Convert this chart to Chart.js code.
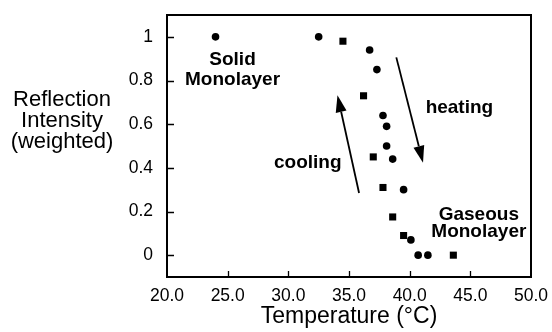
<!DOCTYPE html>
<html>
<head>
<meta charset="utf-8">
<script src="https://cdn.jsdelivr.net/npm/chart.js@4/dist/chart.umd.min.js"></script>
<style>
html,body{margin:0;padding:0;background:#fff;}
#wrap{width:552px;height:332px;position:relative;}
</style>
</head>
<body>
<div id="wrap"><canvas id="c" width="552" height="332"></canvas></div>
<script>
// Heating series (circles)
const heatingT = [24.0, 32.5, 36.7, 37.3, 37.8, 38.1, 38.1, 38.6, 39.5, 40.1, 40.7, 41.5];
const heatingI = [1.0, 1.0, 0.94, 0.85, 0.64, 0.59, 0.50, 0.44, 0.30, 0.07, 0, 0];
// Cooling series (squares)
const coolingT = [34.5, 36.2, 37.0, 37.8, 38.6, 39.5, 43.6];
const coolingI = [0.98, 0.73, 0.45, 0.31, 0.175, 0.09, 0];
// Tick labels
const xTickValues = [20, 25, 30, 35, 40, 45, 50];
const xTickLabels = ["20.0", "25.0", "30.0", "35.0", "40.0", "45.0", "50.0"];
const yTickValues = [0, 0.2, 0.4, 0.6, 0.8, 1];
const yTickLabels = ["0", "0.2", "0.4", "0.6", "0.8", "1"];
const yTitleLines = ["Reflection", "Intensity", "(weighted)"];
const xTitle = "Temperature (\u00B0C)";

const FONT = "'Liberation Sans', Arial, Helvetica, sans-serif";

// annotations in data coordinates
const labels = [
  {text: "Solid", x: 25.4, y: 0.87},
  {text: "Monolayer", x: 25.4, y: 0.78},
  {text: "heating", x: 44.1, y: 0.65},
  {text: "cooling", x: 31.6, y: 0.40},
  {text: "Gaseous", x: 45.7, y: 0.16},
  {text: "Monolayer", x: 45.7, y: 0.085}
];
const arrows = [
  {from: [38.9, 0.906], to: [41.1, 0.423]},
  {from: [35.83, 0.285], to: [34.05, 0.733]}
];

const toPts = (xs, ys) => xs.map((x, i) => ({x: x, y: ys[i]}));

const decor = {
  id: 'decor',
  afterDraw(chart) {
    const ctx = chart.ctx;
    const a = chart.chartArea;
    const xs = chart.scales.x, ys = chart.scales.y;
    ctx.save();
    ctx.strokeStyle = '#000';
    ctx.lineWidth = 2;
    ctx.strokeRect(a.left, a.top, a.right - a.left, a.bottom - a.top);
    // inward ticks
    ctx.lineWidth = 1.3;
    ctx.beginPath();
    xTickValues.forEach(v => {
      const px = Math.round(xs.getPixelForValue(v)) + 0.5;
      if (px > a.left + 2 && px < a.right - 2) {
        ctx.moveTo(px, a.bottom);
        ctx.lineTo(px, a.bottom - 6);
      }
    });
    yTickValues.forEach(v => {
      const py = Math.round(ys.getPixelForValue(v)) + 0.5;
      ctx.moveTo(a.left, py);
      ctx.lineTo(a.left + 7, py);
    });
    ctx.stroke();
    // annotations
    ctx.fillStyle = '#000';
    ctx.font = 'bold 19px ' + FONT;
    ctx.textAlign = 'center';
    ctx.textBaseline = 'alphabetic';
    labels.forEach(l => {
      ctx.fillText(l.text, xs.getPixelForValue(l.x), ys.getPixelForValue(l.y));
    });
    // arrows
    arrows.forEach(ar => {
      const x1 = xs.getPixelForValue(ar.from[0]), y1 = ys.getPixelForValue(ar.from[1]);
      const x2 = xs.getPixelForValue(ar.to[0]), y2 = ys.getPixelForValue(ar.to[1]);
      const ang = Math.atan2(y2 - y1, x2 - x1);
      const hl = 17, hw = 5.5;
      const bx = x2 - hl * Math.cos(ang), by = y2 - hl * Math.sin(ang);
      ctx.lineWidth = 1.8;
      ctx.beginPath();
      ctx.moveTo(x1, y1);
      ctx.lineTo(bx, by);
      ctx.stroke();
      ctx.beginPath();
      ctx.moveTo(x2, y2);
      ctx.lineTo(bx + hw * Math.sin(ang), by - hw * Math.cos(ang));
      ctx.lineTo(bx - hw * Math.sin(ang), by + hw * Math.cos(ang));
      ctx.closePath();
      ctx.fill();
    });
    // axis titles
    ctx.font = '22px ' + FONT;
    ctx.textAlign = 'center';
    yTitleLines.forEach((t, i) => ctx.fillText(t, 62, 106 + i * 21));
    ctx.font = '23px ' + FONT;
    ctx.fillText(xTitle, (a.left + a.right) / 2, 323);
    ctx.restore();
  }
};

new Chart(document.getElementById('c'), {
  type: 'scatter',
  data: {
    datasets: [
      {
        label: 'heating',
        data: toPts(heatingT, heatingI),
        pointStyle: 'circle',
        pointRadius: 3.8,
        backgroundColor: '#000',
        borderColor: '#000',
        borderWidth: 0
      },
      {
        label: 'cooling',
        data: toPts(coolingT, coolingI),
        pointStyle: 'rect',
        pointRadius: 5,
        backgroundColor: '#000',
        borderColor: '#000',
        borderWidth: 0
      }
    ]
  },
  options: {
    responsive: false,
    animation: false,
    devicePixelRatio: 1,
    layout: {padding: {top: 15, right: 21, left: 0, bottom: 0}},
    plugins: {legend: {display: false}, tooltip: {enabled: false}},
    scales: {
      x: {
        type: 'linear',
        min: 20, max: 50,
        border: {display: false},
        grid: {display: false, drawTicks: false},
        afterBuildTicks: s => { s.ticks = xTickValues.map(v => ({value: v})); },
        afterFit: s => { s.height = 55; s.paddingLeft = 0; s.paddingRight = 0; },
        ticks: {
          padding: 9,
          color: '#000',
          font: {family: FONT, size: 17.5},
          maxRotation: 0,
          autoSkip: false,
          callback: (v) => xTickLabels[xTickValues.indexOf(v)]
        }
      },
      y: {
        type: 'linear',
        min: -0.1, max: 1.1,
        border: {display: false},
        grid: {display: false, drawTicks: false},
        afterBuildTicks: s => { s.ticks = yTickValues.map(v => ({value: v})); },
        afterFit: s => { s.width = 167; s.paddingTop = 0; s.paddingBottom = 0; },
        ticks: {
          padding: 14,
          color: '#000',
          font: {family: FONT, size: 17.5},
          autoSkip: false,
          callback: (v) => { const i = yTickValues.findIndex(t => Math.abs(t - v) < 1e-9); return i >= 0 ? yTickLabels[i] : ''; }
        }
      }
    }
  },
  plugins: [decor]
});
</script>
</body>
</html>
